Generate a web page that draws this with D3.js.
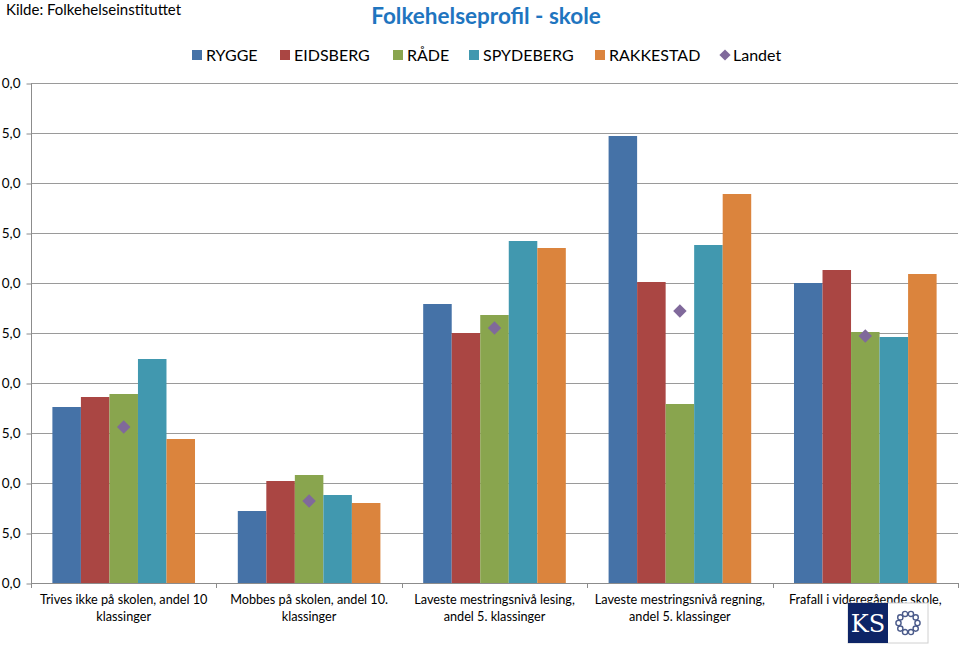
<!DOCTYPE html>
<html>
<head>
<meta charset="utf-8">
<script src="https://cdn.jsdelivr.net/npm/d3@7"></script>
<style>
  html, body { margin: 0; padding: 0; background: #fff; }
  svg { display: block; font-family: Lato, "Open Sans", sans-serif; }
</style>
</head>
<body>
<svg id="chart" width="960" height="647"></svg>
<script>
const categories = [
  ["Trives ikke på skolen, andel 10", "klassinger"],
  ["Mobbes på skolen, andel 10.", "klassinger"],
  ["Laveste mestringsnivå lesing,", "andel 5. klassinger"],
  ["Laveste mestringsnivå regning,", "andel 5. klassinger"],
  ["Frafall i videregående skole,", "total"]
];
const seriesNames = ["RYGGE", "EIDSBERG", "RÅDE", "SPYDEBERG", "RAKKESTAD"];
const rygge     = [17.6, 7.2, 27.9, 44.7, 30.0];
const eidsberg  = [18.6, 10.2, 25.0, 30.1, 31.3];
const raade     = [18.9, 10.8, 26.8, 17.9, 25.1];
const spydeberg = [22.4, 8.8, 34.2, 33.8, 24.6];
const rakkestad = [14.4, 8.0, 33.5, 38.9, 30.9];
const landet    = [15.6, 8.2, 25.5, 27.2, 24.7];
const yTicks = [0, 5, 10, 15, 20, 25, 30, 35, 40, 45, 50];
// tick labels as they appear in the picture (leading digit cropped away)
const yTickLabels = ["0,0", "5,0", "0,0", "5,0", "0,0", "5,0", "0,0", "5,0", "0,0", "5,0", "0,0"];
const colors = ["#4572A7", "#AA4643", "#89A54E", "#4198AF", "#DB843D"];
const landetColor = "#80699B";

const seriesValues = [rygge, eidsberg, raade, spydeberg, rakkestad];

const svg = d3.select("#chart");
const pL = 31, pR = 958, pT = 83, pB = 583;

const x0 = d3.scaleBand().domain(d3.range(categories.length)).range([pL, pR]).padding(0);
const barW = x0.bandwidth() / 6.5;
const x1 = d3.scaleBand().domain(d3.range(seriesNames.length))
  .range([0.75 * barW, 5.75 * barW]).padding(0);
const y = d3.scaleLinear().domain([0, 50]).range([pB, pT]);

// gridlines
svg.append("g").selectAll("line").data(yTicks.filter(d => d > 0)).join("line")
  .attr("x1", pL).attr("x2", pR)
  .attr("y1", d => y(d) + 0.5).attr("y2", d => y(d) + 0.5)
  .attr("stroke", "#9a9a9a").attr("stroke-width", 1);

// y axis
const yAxis = d3.axisLeft(y).tickValues(yTicks).tickSize(5).tickPadding(6)
  .tickFormat((d, i) => yTickLabels[i]);
const gy = svg.append("g").attr("transform", `translate(${pL + 0.5},0.5)`).call(yAxis);
gy.select(".domain").attr("stroke", "#8c8c8c").attr("d", `M0,${pT}V${pB}`);
gy.selectAll(".tick line").attr("stroke", "#8c8c8c");
gy.selectAll(".tick text").attr("font-size", 13.5).attr("fill", "#000")
  .attr("font-family", "Lato, sans-serif").attr("x", -11);

// bars
const groups = svg.append("g").selectAll("g").data(categories).join("g")
  .attr("transform", (d, i) => `translate(${x0(i)},0)`);
groups.selectAll("rect")
  .data((d, i) => seriesValues.map((s, k) => ({ k, v: s[i] })))
  .join("rect")
  .attr("x", d => x1(d.k))
  .attr("width", x1.bandwidth())
  .attr("y", d => y(d.v))
  .attr("height", d => y(0) - y(d.v))
  .attr("fill", d => colors[d.k]);

// x axis
svg.append("line").attr("x1", pL).attr("x2", pR)
  .attr("y1", pB + 0.5).attr("y2", pB + 0.5).attr("stroke", "#8c8c8c");
svg.append("g").selectAll("line").data(d3.range(categories.length + 1)).join("line")
  .attr("x1", i => Math.round(pL + i * x0.bandwidth()) + 0.5)
  .attr("x2", i => Math.round(pL + i * x0.bandwidth()) + 0.5)
  .attr("y1", pB).attr("y2", pB + 5).attr("stroke", "#8c8c8c");

// category labels
const lbl = svg.append("g").selectAll("text").data(categories).join("text")
  .attr("text-anchor", "middle").attr("font-size", 12.7).attr("fill", "#000")
  .attr("x", (d, i) => x0(i) + x0.bandwidth() / 2);
lbl.each(function (d, i) {
  const cx = x0(i) + x0.bandwidth() / 2;
  d3.select(this).selectAll("tspan").data(d).join("tspan")
    .attr("x", cx).attr("y", (t, j) => 604 + j * 17).text(t => t);
});

// landet diamonds
const diamond = d3.symbol().type(d3.symbolDiamond2).size(115);
svg.append("g").selectAll("path").data(landet).join("path")
  .attr("d", diamond)
  .attr("transform", (d, i) => `translate(${x0(i) + x0.bandwidth() / 2},${y(d)})`)
  .attr("fill", landetColor);

// title
svg.append("text").attr("x", 486).attr("y", 24).attr("text-anchor", "middle")
  .attr("font-size", 22.5).attr("font-weight", "bold").attr("fill", "#1F75BF")
  .text("Folkehelseprofil - skole");

// source
svg.append("text").attr("x", 6).attr("y", 15).attr("font-size", 15).attr("fill", "#000")
  .text("Kilde: Folkehelseinstituttet");

// legend
const legendItems = seriesNames.map((n, i) => ({ n, c: colors[i], t: "rect" }))
  .concat([{ n: "Landet", c: landetColor, t: "diamond" }]);
const legendX = [192, 280, 393, 469, 595, 719];
const lg = svg.append("g").selectAll("g").data(legendItems).join("g")
  .attr("transform", (d, i) => `translate(${legendX[i]},55)`);
lg.filter(d => d.t === "rect").append("rect")
  .attr("x", 0).attr("y", -5).attr("width", 10).attr("height", 10).attr("fill", d => d.c);
lg.filter(d => d.t === "diamond").append("path")
  .attr("d", d3.symbol().type(d3.symbolDiamond2).size(80)).attr("transform", "translate(6,0)")
  .attr("fill", d => d.c);
lg.append("text").attr("x", 14).attr("y", 6).attr("font-size", 16).attr("fill", "#000")
  .text(d => d.n);

// KS logo overlay
const logo = svg.append("g").attr("transform", "translate(848,603)");
logo.append("rect").attr("x", 0).attr("y", 0).attr("width", 80).attr("height", 40)
  .attr("fill", "#fff").attr("stroke", "#d0d0d0");
logo.append("rect").attr("x", 0).attr("y", 0).attr("width", 40).attr("height", 40).attr("fill", "#0d2466");
logo.append("text").attr("x", 20).attr("y", 29).attr("text-anchor", "middle")
  .attr("font-size", 24).attr("font-family", "DejaVu Serif, serif").attr("fill", "#fff").text("KS");
const ring = logo.append("g").attr("transform", "translate(60,20)");
ring.selectAll("circle").data(d3.range(10)).join("circle")
  .attr("cx", i => 9.5 * Math.cos(i * Math.PI / 5))
  .attr("cy", i => 9.5 * Math.sin(i * Math.PI / 5))
  .attr("r", 2.6).attr("fill", "none").attr("stroke", "#4a5a8a").attr("stroke-width", 1.4);
</script>
</body>
</html>
